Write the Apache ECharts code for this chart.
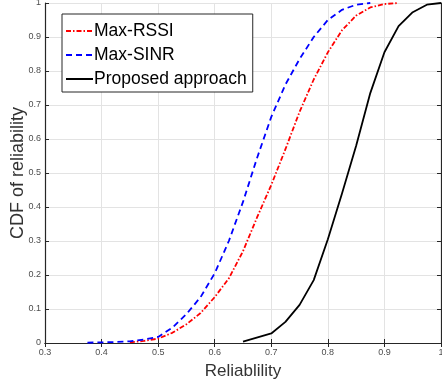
<!DOCTYPE html>
<html>
<head>
<meta charset="utf-8">
<script src="https://cdn.jsdelivr.net/npm/echarts@6/dist/echarts.min.js"></script>
<style>
  html, body { margin: 0; padding: 0; background: #fff; }
  #chart { width: 442px; height: 385px; }
</style>
</head>
<body>
<div id="chart"></div>
<script>
"use strict";

// CDF of reliability, three association schemes
const rssiX = [0.45, 0.475, 0.5, 0.525, 0.55, 0.575, 0.6, 0.625, 0.65, 0.675, 0.7, 0.725, 0.75, 0.775, 0.8, 0.825, 0.85, 0.875, 0.9, 0.925];
const rssiY = [0.002, 0.006, 0.013, 0.03, 0.055, 0.088, 0.135, 0.19, 0.27, 0.37, 0.465, 0.57, 0.68, 0.775, 0.855, 0.92, 0.963, 0.987, 0.997, 1.0];

const sinrX = [0.375, 0.4, 0.425, 0.45, 0.475, 0.5, 0.525, 0.55, 0.575, 0.6, 0.625, 0.65, 0.675, 0.7, 0.725, 0.75, 0.775, 0.8, 0.825, 0.85, 0.875];
const sinrY = [0.001, 0.002, 0.003, 0.005, 0.01, 0.018, 0.045, 0.085, 0.135, 0.205, 0.3, 0.415, 0.545, 0.665, 0.76, 0.835, 0.9, 0.95, 0.98, 0.995, 1.0];

const propX = [0.65, 0.7, 0.725, 0.75, 0.775, 0.8, 0.825, 0.85, 0.875, 0.9, 0.925, 0.95, 0.975, 1.0];
const propY = [0.004, 0.028, 0.062, 0.112, 0.185, 0.305, 0.44, 0.58, 0.735, 0.855, 0.932, 0.973, 0.995, 1.0];

const seriesNames = ['Max-RSSI', 'Max-SINR', 'Proposed approach'];

function pairs(xs, ys) {
    return xs.map(function (x, i) { return [x, ys[i]]; });
}

let myChart = echarts.init(document.getElementById('chart'));

const axisColor = '#262626';
const labelStyle = { color: '#4d4d4d', fontSize: 9, fontFamily: 'Liberation Sans' };

let option = {
    animation: false,
    grid: { left: 45, right: 1, top: 3, bottom: 42, outerBoundsMode: 'none' },
    legend: {
        data: seriesNames,
        orient: 'vertical',
        left: 62,
        top: 14,
        padding: [8, 6, 4, 3],
        itemGap: 6,
        itemWidth: 27,
        itemHeight: 16,
        itemStyle: { opacity: 0 },
        borderColor: axisColor,
        borderWidth: 1,
        backgroundColor: '#fff',
        textStyle: { fontSize: 17.5, color: '#000', fontFamily: 'Liberation Sans', padding: [0, 0, 0, -4] }
    },
    xAxis: [{
        type: 'value',
        min: 0.3,
        max: 1,
        interval: 0.1,
        name: 'Reliablility',
        nameLocation: 'middle',
        nameGap: 20,
        nameMoveOverlap: false,
        nameTextStyle: { fontSize: 17, color: '#333', fontFamily: 'Liberation Sans' },
        axisLine: { lineStyle: { color: axisColor, width: 1.2 } },
        axisTick: { inside: true, length: 4, lineStyle: { color: axisColor } },
        axisLabel: Object.assign({ margin: 5 }, labelStyle),
        splitLine: { show: true, lineStyle: { color: '#e3e3e3', width: 1 } }
    }, {
        type: 'value',
        position: 'top',
        min: 0.3,
        max: 1,
        interval: 0.1,
        axisLine: { show: true, lineStyle: { color: axisColor, width: 1.2 } },
        axisTick: { show: true, inside: true, length: 4, lineStyle: { color: axisColor } },
        axisLabel: { show: false },
        splitLine: { show: false }
    }],
    yAxis: [{
        type: 'value',
        min: 0,
        max: 1,
        interval: 0.1,
        name: 'CDF of reliability',
        nameLocation: 'middle',
        nameGap: 18,
        nameMoveOverlap: false,
        nameTextStyle: { fontSize: 18, color: '#333', fontFamily: 'Liberation Sans' },
        axisLine: { show: true, lineStyle: { color: axisColor, width: 1.2 } },
        axisTick: { show: true, inside: true, length: 4, lineStyle: { color: axisColor } },
        axisLabel: Object.assign({ margin: 4 }, labelStyle),
        splitLine: { show: true, lineStyle: { color: '#e3e3e3', width: 1 } }
    }, {
        type: 'value',
        position: 'right',
        min: 0,
        max: 1,
        interval: 0.1,
        axisLine: { show: true, lineStyle: { color: axisColor, width: 1.2 } },
        axisTick: { show: true, inside: true, length: 4, lineStyle: { color: axisColor } },
        axisLabel: { show: false },
        splitLine: { show: false }
    }],
    series: [{
        name: seriesNames[0],
        type: 'line',
        symbol: 'none',
        data: pairs(rssiX, rssiY),
        lineStyle: { color: '#ff0000', width: 1.8, type: [5, 2, 1.5, 2] },
        itemStyle: { color: '#ff0000' }
    }, {
        name: seriesNames[1],
        type: 'line',
        symbol: 'none',
        data: pairs(sinrX, sinrY),
        lineStyle: { color: '#0000ff', width: 1.8, type: [6, 4] },
        itemStyle: { color: '#0000ff' }
    }, {
        name: seriesNames[2],
        type: 'line',
        symbol: 'none',
        data: pairs(propX, propY),
        lineStyle: { color: '#000000', width: 1.8, type: 'solid' },
        itemStyle: { color: '#000000' }
    }]
};

myChart.setOption(option);

window.addEventListener('resize', function () {
    myChart.resize();
});
</script>
</body>
</html>
